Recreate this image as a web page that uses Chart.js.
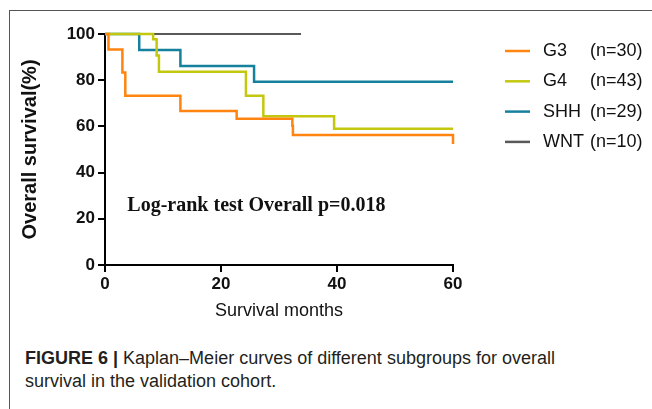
<!DOCTYPE html>
<html>
<head>
<meta charset="utf-8">
<script src="https://cdn.jsdelivr.net/npm/chart.js@4/dist/chart.umd.min.js"></script>
<style>
  html, body { margin: 0; padding: 0; background: #fff; }
  body { width: 652px; height: 409px; position: relative; overflow: hidden; }
  .frame-top { position: absolute; left: 9px; top: 10px; width: 643px; height: 1px; background: #555; }
  .frame-left { position: absolute; left: 9px; top: 10px; width: 1px; height: 399px; background: #555; }
  #myChart { position: absolute; left: 0; top: 0; }
  .caption {
    position: absolute; left: 25px; top: 347px; width: 620px;
    font-family: "Liberation Sans", Arial, sans-serif; font-size: 18px;
    line-height: 23px; color: #231f20;
  }
  .caption b { font-weight: bold; }
</style>
</head>
<body>
<div class="frame-top"></div>
<div class="frame-left"></div>
<canvas id="myChart" width="652" height="330"></canvas>
<div class="caption"><b>FIGURE 6 |</b> Kaplan–Meier curves of different subgroups for overall<br>survival in the validation cohort.</div>

<script>
'use strict';

// groups, sample sizes, colours
const groups = ['G3', 'G4', 'SHH', 'WNT'];
const counts = ['(n=30)', '(n=43)', '(n=29)', '(n=10)'];
const colors = ['#ff8410', '#c3c80e', '#16819c', '#595959'];

// survival curves: months and survival (%) at each step
const g3Months = [0, 0.6, 3.0, 3.5, 13.0, 22.7, 32.3, 32.4, 60, 60];
const g3Surv = [100, 93.3, 83.3, 73.3, 66.7, 63.3, 60.3, 56.3, 56.3, 52.4];
const g4Months = [0, 8.3, 8.9, 9.3, 24.3, 27.3, 39.5, 60];
const g4Surv = [100, 97.7, 90.7, 83.7, 73.3, 64.4, 59.0, 59.0];
const shhMonths = [0, 5.9, 13.0, 25.7, 60];
const shhSurv = [100, 93.1, 86.2, 79.3, 79.3];
const wntMonths = [0, 33.8];
const wntSurv = [100, 100];

const xTicks = [0, 20, 40, 60];
const yTicks = [0, 20, 40, 60, 80, 100];

const pValueText = 'Log-rank test Overall p=0.018';

const toPoints = (xs, ys) => xs.map((x, i) => ({ x, y: ys[i] }));
const series = [
  toPoints(g3Months, g3Surv),
  toPoints(g4Months, g4Surv),
  toPoints(shhMonths, shhSurv),
  toPoints(wntMonths, wntSurv)
];
const widths = [2.5, 2.5, 2.5, 1.8];

const data = {
  datasets: groups.map((g, i) => ({
    label: g,
    data: series[i],
    borderColor: colors[i],
    backgroundColor: colors[i],
    borderWidth: widths[i],
    stepped: 'before',
    pointRadius: 0,
    fill: false,
    clip: false
  }))
};

// legend + log-rank text
const kmExtras = {
  id: 'kmExtras',
  afterDraw(chart) {
    const { ctx, scales: { x, y } } = chart;
    ctx.save();
    ctx.textBaseline = 'middle';
    ctx.fillStyle = '#111';
    ctx.font = 'bold 20px "Liberation Serif", "Times New Roman", serif';
    ctx.textAlign = 'center';
    ctx.fillText(pValueText, x.getPixelForValue(26.1), y.getPixelForValue(25.5));

    ctx.font = '18px "Liberation Sans", Arial, sans-serif';
    ctx.textAlign = 'left';
    for (let i = 0; i < groups.length; i++) {
      const rowY = 51 + i * 30.3;
      ctx.strokeStyle = colors[i];
      ctx.lineWidth = 2.5;
      ctx.beginPath();
      ctx.moveTo(505, rowY);
      ctx.lineTo(530, rowY);
      ctx.stroke();
      ctx.fillStyle = '#111';
      ctx.fillText(groups[i], 543, rowY);
      ctx.fillText(counts[i], 590, rowY);
    }
    ctx.restore();
  }
};

const tickFont = { family: '"Liberation Sans", Arial, sans-serif', size: 17, weight: 'bold' };

const config = {
  type: 'line',
  data,
  options: {
    responsive: false,
    animation: false,
    layout: { padding: { left: 0, top: 34, right: 199, bottom: 0 } },
    plugins: {
      legend: { display: false },
      tooltip: { enabled: false }
    },
    scales: {
      x: {
        type: 'linear',
        min: 0,
        max: 60,
        afterFit: s => { s.height = 65; },
        afterBuildTicks: s => { s.ticks = xTicks.map(v => ({ value: v })); },
        border: { color: '#000', width: 2 },
        grid: { drawOnChartArea: false, drawTicks: true, tickLength: 7, color: '#000', lineWidth: 2 },
        ticks: { color: '#111', font: tickFont, padding: 2, maxRotation: 0 },
        title: {
          display: true,
          text: 'Survival months',
          color: '#111',
          font: { family: '"Liberation Sans", Arial, sans-serif', size: 18 },
          padding: { top: 0, bottom: 8 }
        }
      },
      y: {
        min: 0,
        max: 100,
        afterFit: s => { s.width = 105; },
        afterBuildTicks: s => { s.ticks = yTicks.map(v => ({ value: v })); },
        border: { color: '#000', width: 2 },
        grid: { drawOnChartArea: false, drawTicks: true, tickLength: 7, color: '#000', lineWidth: 2 },
        ticks: { color: '#111', font: tickFont, padding: 3 },
        title: {
          display: true,
          text: 'Overall survival(%)',
          color: '#111',
          font: { family: '"Liberation Sans", Arial, sans-serif', size: 20, weight: 'bold' },
          padding: { top: 18, bottom: 0 }
        }
      }
    }
  },
  plugins: [kmExtras]
};

const myChart = new Chart(document.getElementById('myChart'), config);
</script>
</body>
</html>
